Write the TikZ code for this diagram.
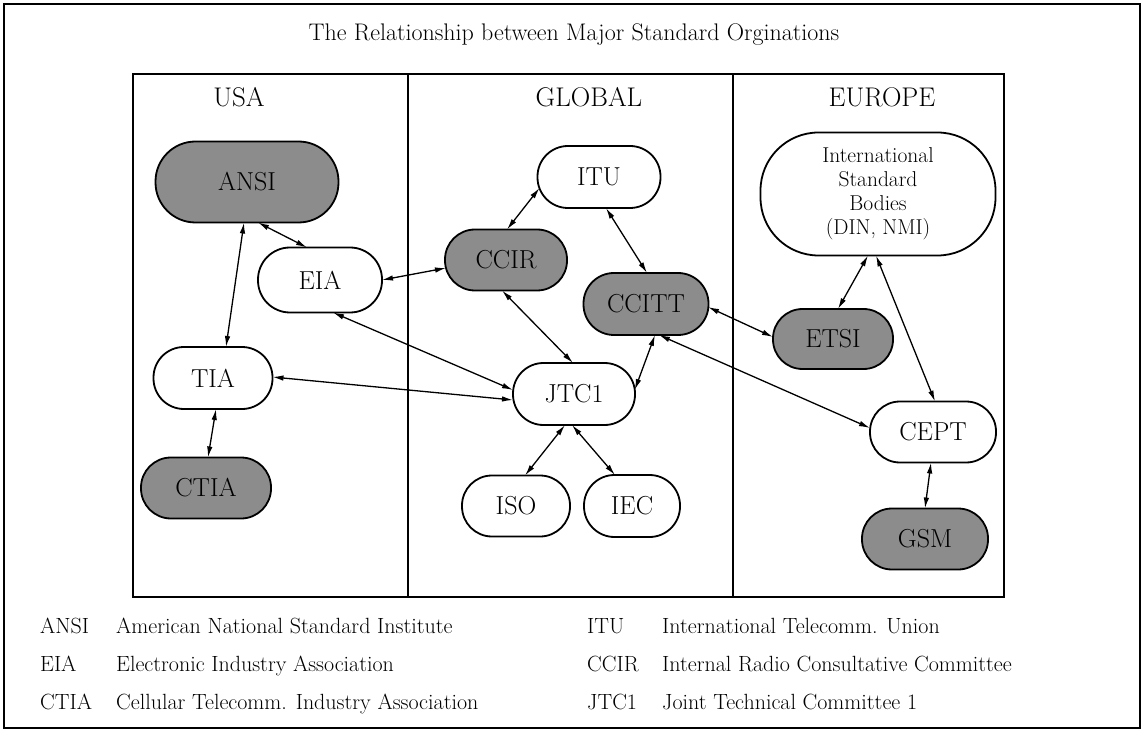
\documentclass[tikz,border=0pt]{standalone}
\usetikzlibrary{arrows.meta}
\definecolor{shade}{RGB}{140,140,140}
\begin{document}
\begin{tikzpicture}[x=1pt,y=-1pt,
  org/.style={draw, line width=1.8pt, rectangle, inner sep=0pt, align=center,
    font=\fontsize{26}{30}\selectfont},
  orgw/.style={org, fill=white},
  orgg/.style={org, fill=shade},
  conn/.style={{Latex[length=11pt,width=5.5pt]}-{Latex[length=11pt,width=5.5pt]}, line width=1.3pt},
  heading/.style={anchor=base, font=\fontsize{27}{30}\selectfont},
  legend/.style={anchor=base west, inner sep=0pt, font=\fontsize{22}{26}\selectfont}]
\useasboundingbox (0,0) rectangle (1146,735);
\fill[white] (0,0) rectangle (1146,735);
% frames
\draw[line width=2.2pt] (4,4) rectangle (1140,728);
\draw[line width=1.6pt] (133,74) rectangle (1004,597);
\draw[line width=1.2pt] (408,74) -- (408,597);
\draw[line width=1.2pt] (733,74) -- (733,597);
% title and headings
\node[anchor=base, font=\fontsize{24}{28}\selectfont] (title) at (574,41) {The Relationship between Major Standard Orginations};
\node[heading] (hUSA) at (239,107) {USA};
\node[heading] (hGLOBAL) at (589,107) {GLOBAL};
\node[heading] (hEUROPE) at (882,107) {EUROPE};
% nodes
\node[orgg, minimum width=183pt, minimum height=81pt, rounded corners=40pt] (ANSI) at (247,182) {ANSI};
\node[orgw, minimum width=124pt, minimum height=65pt, rounded corners=32pt] (EIA) at (320,280) {EIA};
\node[orgw, minimum width=119pt, minimum height=62pt, rounded corners=30.5pt] (TIA) at (213,378) {TIA};
\node[orgg, minimum width=130pt, minimum height=61pt, rounded corners=30pt] (CTIA) at (206,488) {CTIA};
\node[orgw, minimum width=123pt, minimum height=62pt, rounded corners=30.5pt] (ITU) at (599,177) {ITU};
\node[orgg, minimum width=122pt, minimum height=61pt, rounded corners=30pt] (CCIR) at (506,260) {CCIR};
\node[orgg, minimum width=125pt, minimum height=62pt, rounded corners=30.5pt] (CCITT) at (646,304) {CCITT};
\node[orgw, minimum width=122pt, minimum height=62pt, rounded corners=30.5pt] (JTC1) at (574,394) {JTC1};
\node[orgw, minimum width=108pt, minimum height=61pt, rounded corners=30pt] (ISO) at (516,506) {ISO};
\node[orgw, minimum width=96pt, minimum height=62pt, rounded corners=30.5pt] (IEC) at (632,506) {IEC};
\node[orgw, minimum width=235pt, minimum height=123pt, rounded corners=58pt,
  font=\fontsize{21.5}{24}\selectfont] (ISB) at (878,194) {International\\Standard\\Bodies\\(DIN, NMI)};
\node[orgg, minimum width=120pt, minimum height=60pt, rounded corners=29.5pt] (ETSI) at (833,339) {ETSI};
\node[orgw, minimum width=126pt, minimum height=61pt, rounded corners=30pt] (CEPT) at (933,432) {CEPT};
\node[orgg, minimum width=126pt, minimum height=61pt, rounded corners=30pt] (GSM) at (925,539) {GSM};
% connectors
\draw[conn] ([shift={(11,40.5)}]ANSI.center) -- ([shift={(-13,-32.5)}]EIA.center);
\draw[conn] ([shift={(-3,40.5)}]ANSI.center) -- ([shift={(13,-31)}]TIA.center);
\draw[conn] ([shift={(62,0)}]EIA.center) -- ([shift={(-60,8)}]CCIR.center);
\draw[conn] ([shift={(-59.5,11)}]ITU.center) -- ([shift={(1,-30.5)}]CCIR.center);
\draw[conn] ([shift={(7,31)}]ITU.center) -- ([shift={(1,-31)}]CCITT.center);
\draw[conn] ([shift={(-4,30.5)}]CCIR.center) -- ([shift={(-1,-31)}]JTC1.center);
\draw[conn] ([shift={(13,32.5)}]EIA.center) -- ([shift={(-61,-4)}]JTC1.center);
\draw[conn] ([shift={(59.5,-1)}]TIA.center) -- ([shift={(-61,6)}]JTC1.center);
\draw[conn] ([shift={(3,31)}]TIA.center) -- ([shift={(2,-30.5)}]CTIA.center);
\draw[conn] ([shift={(-9,31)}]JTC1.center) -- ([shift={(9,-30.5)}]ISO.center);
\draw[conn] ([shift={(-2,31)}]JTC1.center) -- ([shift={(-17,-31)}]IEC.center);
\draw[conn] ([shift={(60.7,-4)}]JTC1.center) -- ([shift={(9,31)}]CCITT.center);
\draw[conn] ([shift={(62,3)}]CCITT.center) -- ([shift={(-60,-2)}]ETSI.center);
\draw[conn] ([shift={(13,31)}]CCITT.center) -- ([shift={(-63,-4)}]CEPT.center);
\draw[conn] ([shift={(-10,61.5)}]ISB.center) -- ([shift={(5,-30)}]ETSI.center);
\draw[conn] ([shift={(-2,61.5)}]ISB.center) -- ([shift={(2,-30.5)}]CEPT.center);
\draw[conn] ([shift={(-2,30.5)}]CEPT.center) -- ([shift={(0,-30.5)}]GSM.center);
% legend
\node[legend] (lANSI) at (40,633) {ANSI};
\node[legend] (dANSI) at (116,633) {American National Standard Institute};
\node[legend] (lEIA) at (40,671) {EIA};
\node[legend] (dEIA) at (116,671) {Electronic Industry Association};
\node[legend] (lCTIA) at (40,709) {CTIA};
\node[legend] (dCTIA) at (116,709) {Cellular Telecomm. Industry Association};
\node[legend] (lITU) at (587,633) {ITU};
\node[legend] (dITU) at (662,633) {International Telecomm. Union};
\node[legend] (lCCIR) at (587,671) {CCIR};
\node[legend] (dCCIR) at (662,671) {Internal Radio Consultative Committee};
\node[legend] (lJTC1) at (587,709) {JTC1};
\node[legend] (dJTC1) at (662,709) {Joint Technical Committee 1};
\end{tikzpicture}
\end{document}
